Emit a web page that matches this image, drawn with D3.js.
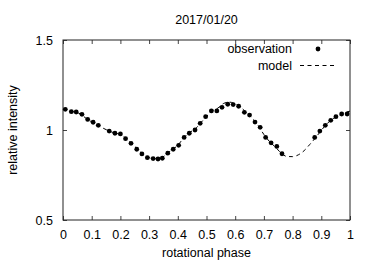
<!DOCTYPE html>
<html>
<head>
<meta charset="utf-8">
<script src="https://d3js.org/d3.v7.min.js"></script>
<style>
    body {margin: 0; background: #fff;}
    svg text {font-family: "Liberation Sans", Arial, sans-serif; font-size: 12.5px; fill: #000;}
</style>
</head>
<body>
<div id="chart"></div>
<script>
    // observations (rotational phase, relative intensity)
    let obsPhase = [0.008, 0.029, 0.046, 0.066, 0.086, 0.105, 0.123, 0.161, 0.181, 0.200,
        0.218, 0.237, 0.257, 0.275, 0.294, 0.314, 0.331, 0.346, 0.365, 0.384,
        0.403, 0.422, 0.440, 0.460, 0.478, 0.497, 0.517, 0.536, 0.554, 0.574,
        0.593, 0.612, 0.632, 0.650, 0.669, 0.687, 0.706, 0.725, 0.745, 0.763,
        0.877, 0.895, 0.914, 0.933, 0.951, 0.971, 0.990];
    let obsValue = [1.115, 1.102, 1.100, 1.087, 1.059, 1.043, 1.026, 0.994, 0.982, 0.978,
        0.952, 0.926, 0.893, 0.867, 0.846, 0.841, 0.839, 0.843, 0.871, 0.893,
        0.915, 0.959, 0.982, 1.000, 1.037, 1.074, 1.106, 1.106, 1.126, 1.143,
        1.141, 1.132, 1.098, 1.083, 1.044, 1.015, 0.959, 0.929, 0.909, 0.868,
        0.959, 0.994, 1.026, 1.054, 1.074, 1.089, 1.089];

    // model curve
    let modelPhase = [0.00, 0.02, 0.04, 0.06, 0.08, 0.10, 0.12, 0.14, 0.16, 0.18,
        0.20, 0.22, 0.24, 0.26, 0.28, 0.30, 0.32, 0.34, 0.36, 0.38,
        0.40, 0.42, 0.44, 0.46, 0.48, 0.50, 0.52, 0.54, 0.56, 0.58,
        0.60, 0.62, 0.64, 0.66, 0.68, 0.70, 0.72, 0.74, 0.76, 0.78,
        0.80, 0.82, 0.84, 0.86, 0.88, 0.90, 0.92, 0.94, 0.96, 0.98, 1.00];
    let modelValue = [1.115, 1.108, 1.100, 1.090, 1.065, 1.045, 1.028, 1.010, 0.995, 0.983,
        0.975, 0.952, 0.924, 0.893, 0.865, 0.847, 0.840, 0.842, 0.866, 0.890,
        0.915, 0.955, 0.985, 1.005, 1.040, 1.075, 1.105, 1.122, 1.148, 1.155,
        1.145, 1.125, 1.095, 1.065, 1.025, 0.975, 0.935, 0.905, 0.872, 0.853,
        0.852, 0.862, 0.885, 0.920, 0.957, 0.998, 1.035, 1.062, 1.080, 1.095, 1.105];

    let xTicks = [0, 0.1, 0.2, 0.3, 0.4, 0.5, 0.6, 0.7, 0.8, 0.9, 1];
    let yTicks = [0.5, 1, 1.5];

    let titleText = "2017/01/20";
    let xLabel = "rotational phase";
    let yLabel = "relative intensity";

    let W = 374, H = 262;
    let margin = {top: 40, right: 24, bottom: 42, left: 63};
    let width = W - margin.left - margin.right,
        height = H - margin.top - margin.bottom;

    let x = d3.scaleLinear().domain([0, 1]).range([0, width]);
    let y = d3.scaleLinear().domain([0.5, 1.5]).range([height, 0]);

    let svg = d3.select("#chart").append("svg")
        .attr("width", W).attr("height", H);

    let g = svg.append("g")
        .attr("transform", "translate(" + margin.left + "," + margin.top + ")");

    // inward ticks, mirrored on all sides
    function styleAxis(sel) {
        sel.select(".domain").remove();
        sel.selectAll("line").attr("stroke", "#444");
    }

    g.append("g")
        .attr("transform", "translate(0," + height + ")")
        .call(d3.axisBottom(x).tickValues(xTicks).tickSize(-4).tickPadding(10)
            .tickFormat(d3.format("")))
        .call(styleAxis);
    g.append("g")
        .call(d3.axisTop(x).tickValues(xTicks).tickSize(-4).tickFormat(""))
        .call(styleAxis);
    g.append("g")
        .call(d3.axisLeft(y).tickValues(yTicks).tickSize(-4).tickPadding(10)
            .tickFormat(d3.format("")))
        .call(styleAxis);
    g.append("g")
        .attr("transform", "translate(" + width + ",0)")
        .call(d3.axisRight(y).tickValues(yTicks).tickSize(-4).tickFormat(""))
        .call(styleAxis);

    g.selectAll(".tick text")
        .style("font-family", '"Liberation Sans", Arial, sans-serif')
        .style("font-size", "12.5px")
        .attr("fill", "#000");

    g.append("rect")
        .attr("width", width).attr("height", height)
        .attr("fill", "none").attr("stroke", "#222").attr("stroke-width", 1);

    // model
    let model = modelPhase.map((p, i) => [p, modelValue[i]]);
    let line = d3.line().x(d => x(d[0])).y(d => y(d[1])).curve(d3.curveMonotoneX);
    g.append("path")
        .datum(model)
        .attr("d", line)
        .attr("fill", "none")
        .attr("stroke", "#000")
        .attr("stroke-width", 1)
        .attr("stroke-dasharray", "4,3.5");

    // observations
    let obs = obsPhase.map((p, i) => [p, obsValue[i]]);
    g.selectAll(".obs")
        .data(obs)
        .enter().append("circle")
        .attr("class", "obs")
        .attr("cx", d => x(d[0]))
        .attr("cy", d => y(d[1]))
        .attr("r", 2.4)
        .attr("fill", "#000");

    // legend
    let legend = svg.append("g");
    legend.append("text")
        .attr("x", 292).attr("y", 53)
        .attr("text-anchor", "end")
        .text("observation");
    legend.append("circle")
        .attr("cx", 318).attr("cy", 49).attr("r", 2.4).attr("fill", "#000");
    legend.append("text")
        .attr("x", 292).attr("y", 70)
        .attr("text-anchor", "end")
        .text("model");
    legend.append("line")
        .attr("x1", 300).attr("x2", 336).attr("y1", 65.5).attr("y2", 65.5)
        .attr("stroke", "#000").attr("stroke-width", 1)
        .attr("stroke-dasharray", "4,3.5");

    // title and axis labels
    svg.append("text")
        .attr("x", margin.left + width / 2).attr("y", 24)
        .attr("text-anchor", "middle")
        .text(titleText);
    svg.append("text")
        .attr("x", margin.left + width / 2).attr("y", 257)
        .attr("text-anchor", "middle")
        .text(xLabel);
    svg.append("text")
        .attr("transform", "translate(17," + (margin.top + height / 2) + ") rotate(-90)")
        .attr("text-anchor", "middle")
        .text(yLabel);
</script>
</body>
</html>
